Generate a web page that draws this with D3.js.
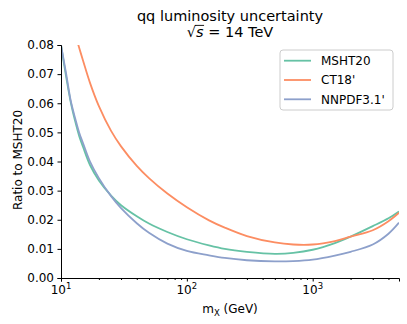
<!DOCTYPE html>
<html><head><meta charset="utf-8">
<script src="https://cdn.jsdelivr.net/npm/d3@7"></script>
<style>
body{margin:0;background:#fff}
svg{display:block}
text{font-family:"DejaVu Sans",sans-serif;fill:#000}
</style>
</head><body>
<svg id="c" width="407" height="324"></svg>
<script>
// ---- data ----
const masses = [10,11,12,13,14,15,17,20,25,30,40,50,70,100,150,200,300,500,700,1000,1500,2000,3000,4000,4850];
const msht20 = [0.080,0.069,0.060,0.0536,0.0485,0.0449,0.0388,0.0335,0.0283,0.0250,0.0212,0.0187,0.0158,0.0133,0.0112,0.0100,0.0090,0.0083,0.0086,0.0097,0.0120,0.0142,0.0178,0.0205,0.0228];
const ct18   = [null,null,null,0.0835,0.0788,0.0745,0.0670,0.0590,0.0505,0.0452,0.0385,0.0343,0.0290,0.0243,0.0198,0.0173,0.0144,0.0122,0.0115,0.0115,0.0127,0.0142,0.0164,0.0195,0.0224];
const nnpdf  = [0.080,0.070,0.0605,0.0546,0.0497,0.0462,0.0400,0.0343,0.0281,0.0240,0.0188,0.0155,0.0118,0.0093,0.0078,0.0069,0.0061,0.0057,0.0058,0.0063,0.0077,0.0090,0.0115,0.0152,0.0190];
const seriesNames = ["MSHT20","CT18'","NNPDF3.1'"];
const seriesColors = ["#66c2a5","#fc8d62","#8da0cb"];
const yTicks = [0,0.01,0.02,0.03,0.04,0.05,0.06,0.07,0.08];
const xMajor = [10,100,1000];
const xMajorExp = ["1","2","3"];
const xDomain = [10,4850];

const W=407,H=324, M={l:61,r:8,t:45,b:46};
const svg=d3.select("#c");
const x=d3.scaleLog().domain(xDomain).range([M.l,W-M.r]);
const y=d3.scaleLinear().domain([0,0.08]).range([H-M.b,M.t]);

svg.append("defs").append("clipPath").attr("id","clip")
  .append("rect").attr("x",M.l).attr("y",M.t).attr("width",W-M.l-M.r).attr("height",H-M.t-M.b);

// lines
const all=[msht20,ct18,nnpdf];
const line=d3.line().defined(d=>d[1]!=null).x(d=>x(d[0])).y(d=>y(d[1])).curve(d3.curveCatmullRom.alpha(0.5));
const g=svg.append("g").attr("clip-path","url(#clip)");
all.forEach((vals,i)=>{
  g.append("path").datum(masses.map((m,j)=>[m,vals[j]]))
   .attr("d",line).attr("fill","none").attr("stroke",seriesColors[i])
   .attr("stroke-width",1.8).attr("stroke-linejoin","round").attr("stroke-linecap","butt");
});

// y axis
const ya=svg.append("g").attr("transform",`translate(${M.l},0)`)
  .call(d3.axisLeft(y).tickValues(yTicks).tickFormat(d3.format(".2f")).tickSize(3.5).tickPadding(3.5));
ya.selectAll("text").attr("font-size",12).attr("font-family","DejaVu Sans");
ya.select(".domain").attr("stroke-width",1);

// x axis: major + minor
const minor=[];
for(let e=1;e<=3;e++){for(let k=2;k<=9;k++){const v=k*Math.pow(10,e); if(v<=xDomain[1]) minor.push(v);}}
const xa=svg.append("g").attr("transform",`translate(0,${H-M.b})`)
  .call(d3.axisBottom(x).tickValues(xMajor).tickFormat("").tickSize(3.5));
xa.select(".domain").attr("stroke-width",1);
svg.append("g").attr("transform",`translate(0,${H-M.b})`)
  .call(d3.axisBottom(x).tickValues(minor).tickFormat("").tickSize(2))
  .select(".domain").remove();
xMajor.forEach((v,i)=>{
  const t=svg.append("text").attr("x",x(v)).attr("y",294).attr("text-anchor","middle").attr("font-size",12);
  t.append("tspan").text("10");
  t.append("tspan").attr("font-size",8.5).attr("dy",-5).text(xMajorExp[i]);
});

// axis labels
const xl=svg.append("text").attr("x",(M.l+W-M.r)/2).attr("y",313).attr("text-anchor","middle").attr("font-size",12);
xl.append("tspan").text("m");
xl.append("tspan").attr("font-size",8.5).attr("dy",2.5).text("X");
xl.append("tspan").attr("dy",-2.5).text(" (GeV)");
svg.append("text").attr("transform","translate(22,160) rotate(-90)").attr("text-anchor","middle")
  .attr("font-size",12).text("Ratio to MSHT20");

// title
const cx=(M.l+W-M.r)/2;
svg.append("text").attr("x",cx).attr("y",21).attr("text-anchor","middle").attr("font-size",14.5)
  .text("qq luminosity uncertainty");
const t2=svg.append("text").attr("x",cx).attr("y",37).attr("text-anchor","middle").attr("font-size",14.5);
t2.append("tspan").text("\u221A");
t2.append("tspan").attr("font-style","italic").text("s");
t2.append("tspan").text(" = 14 TeV");
const n=t2.node();
const e0=n.getExtentOfChar(0), e1=n.getExtentOfChar(1);
svg.append("line").attr("x1",e0.x+e0.width-1).attr("x2",e1.x+e1.width+0.5)
  .attr("y1",37-11.6).attr("y2",37-11.6).attr("stroke","#000").attr("stroke-width",0.9);

// legend
const lg=svg.append("g");
lg.append("rect").attr("x",280).attr("y",50).attr("width",113).attr("height",60).attr("rx",3)
  .attr("fill","#fff").attr("fill-opacity",0.8).attr("stroke","#cccccc").attr("stroke-width",1);
seriesNames.forEach((s,i)=>{
  const cy=60.7+i*19.3;
  lg.append("line").attr("x1",284).attr("x2",311).attr("y1",cy).attr("y2",cy)
    .attr("stroke",seriesColors[i]).attr("stroke-width",1.8);
  lg.append("text").attr("x",321).attr("y",cy).attr("dy","0.36em").attr("font-size",12).text(s);
});
</script>
</body></html>
